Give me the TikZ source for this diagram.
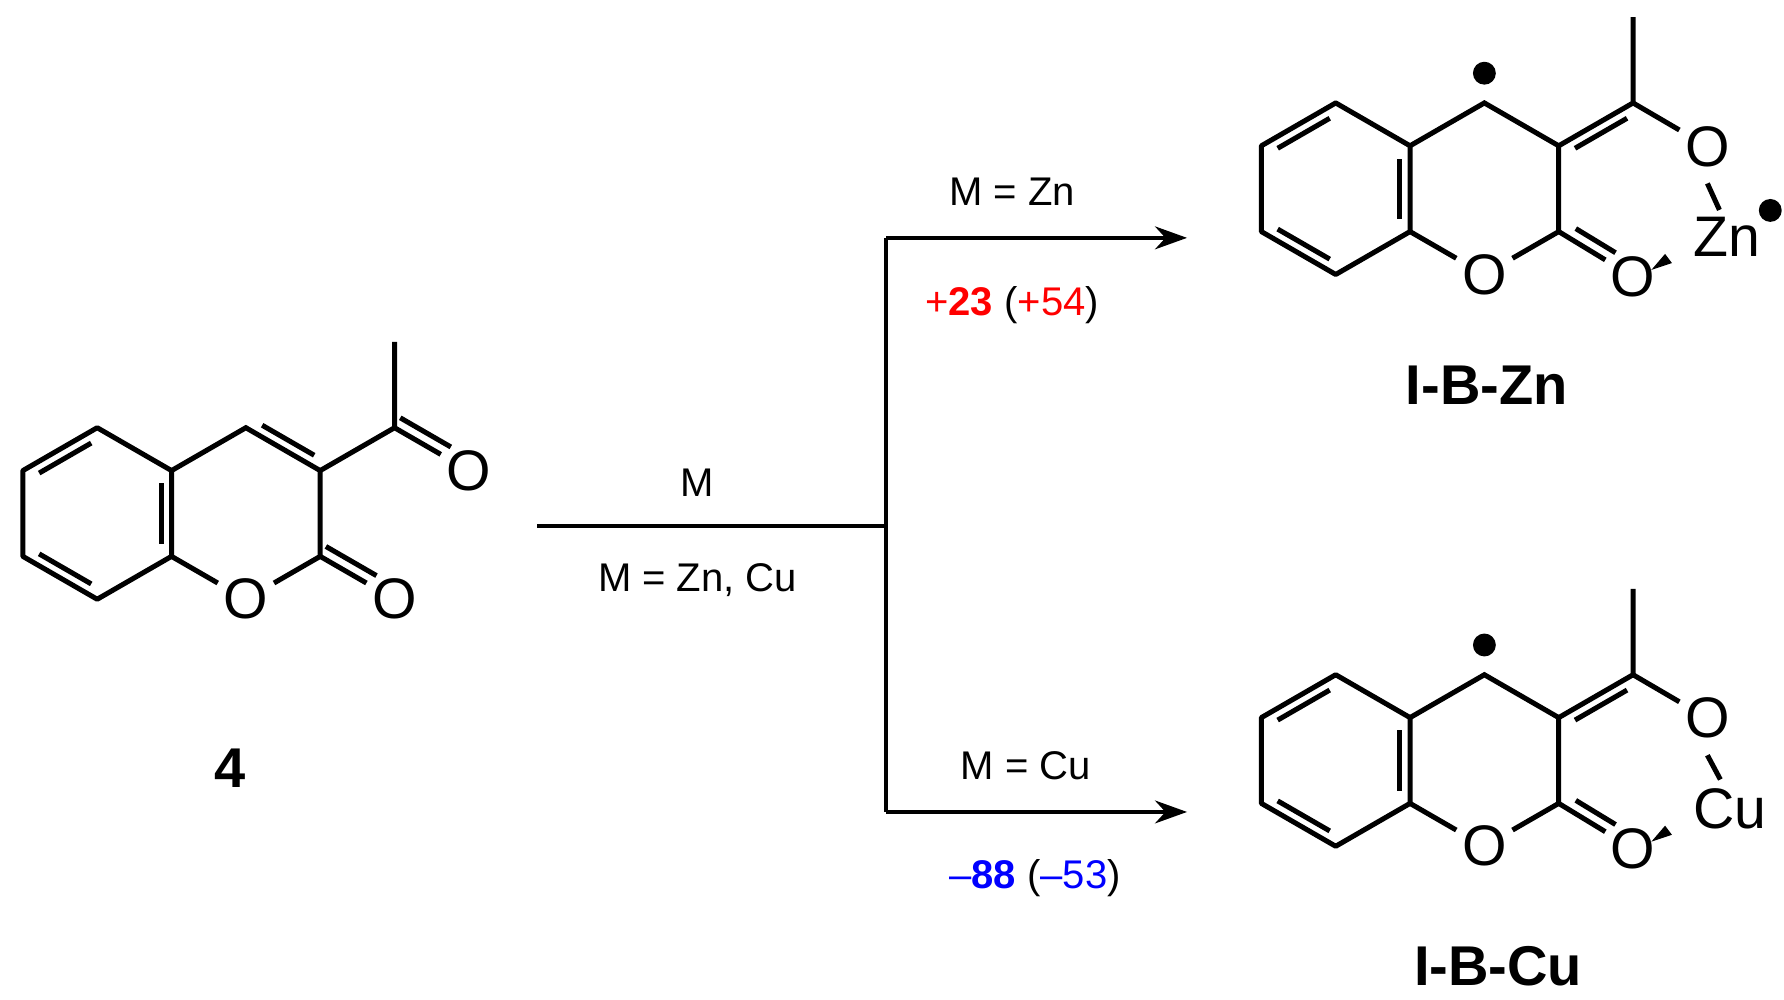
\documentclass[tikz,border=0pt]{standalone}
\usepackage{fontspec}
\setmainfont{Liberation Sans}
\usetikzlibrary{calc,arrows.meta}
\begin{document}
\begin{tikzpicture}[x=0.5pt,y=-0.5pt,line width=2.2pt,
  atom/.style={circle,inner sep=0pt,minimum size=21pt,font=\fontsize{25}{25}\selectfont},
  txt/.style={font=\fontsize{17.5}{20}\selectfont},
  lbl/.style={font=\fontsize{24.5}{26}\selectfont\bfseries},
  arr/.style={-{Stealth[length=14pt,width=10pt]},line width=1.6pt},
  rx/.style={line width=1.6pt}]
\useasboundingbox (0,0) rectangle (1560,873.6);
\newcommand\inb[3]{\draw ($(#1)!.15!(#2)!4.5pt!#3:(#2)$) -- ($(#2)!.15!(#1)!4.5pt!-#3:(#1)$);}
% ---- compound 4
\coordinate (a1) at (85,374); \coordinate (a2) at (20,411.5); \coordinate (a3) at (20,486.5);
\coordinate (a4) at (85,524); \coordinate (a5) at (150,486.5); \coordinate (a6) at (150,411.5);
\coordinate (a7) at (215,374); \coordinate (a8) at (280,411.5); \coordinate (a9) at (280,486.5);
\node[atom] (aO1) at (215,524) {O}; \node[atom] (aO2) at (345,524) {O};
\coordinate (aC) at (345,374); \coordinate (aMe) at (345,299); \node[atom] (aO3) at (410,411.5) {O};
\draw[line cap=round,line join=round] (a1)--(a2)--(a3)--(a4)--(a5)--(a6)--cycle;
\draw (a6)--(a7)--(a8)--(a9)--(aO1)--(a5); \draw (a9)--(aO2); \draw (a8)--(aC)--(aMe); \draw (aC)--(aO3);
\inb{a1}{a2}{90}\inb{a3}{a4}{90}\inb{a5}{a6}{90}\inb{a7}{a8}{90}
\draw ($(a9)!5pt!90:(aO2)$) -- ($(aO2.center)!12pt!(a9)!5pt!-90:(a9)$);
\draw ($(aC)!5pt!90:(aO3)$) -- ($(aO3.center)!12pt!(aC)!5pt!-90:(aC)$);
\node[lbl] (n4) at (201,672) {4};
% ---- products
\foreach \p/\dy in {z/0,c/500}{
\begin{scope}[shift={(0,\dy)}]
\coordinate (\p1) at (1168,90); \coordinate (\p2) at (1103,127.5); \coordinate (\p3) at (1103,202.5);
\coordinate (\p4) at (1168,240); \coordinate (\p5) at (1233,202.5); \coordinate (\p6) at (1233,127.5);
\coordinate (\p7) at (1298,90); \coordinate (\p8) at (1363,127.5); \coordinate (\p9) at (1363,202.5);
\node[atom] (\p O1) at (1298,240) {O}; \node[atom] (\p O2) at (1428,242) {O};
\coordinate (\p C) at (1428,90); \coordinate (\p Me) at (1428,15); \node[atom] (\p O3) at (1493,128) {O};
\fill (1298,64) circle (5pt);
\end{scope}
\draw[line join=round] (\p1)--(\p2)--(\p3)--(\p4)--(\p5)--(\p6)--cycle;
\draw (\p6)--(\p7)--(\p8)--(\p9)--(\p O1)--(\p5); \draw (\p9)--(\p O2); \draw (\p8)--(\p C)--(\p Me); \draw (\p C)--(\p O3);
\inb{\p1}{\p2}{90}\inb{\p3}{\p4}{90}\inb{\p5}{\p6}{90}\inb{\p8}{\p C}{-90}
\draw ($(\p9)!.15!(\p O2.center)!5pt!90:(\p O2.center)$) -- ($(\p O2.center)!12pt!(\p9)!5pt!-90:(\p9)$);
}
\node[atom,anchor=west,font=\fontsize{25}{25}\selectfont] (zM) at (1474,207) {Zn};
\node[atom,anchor=west,font=\fontsize{25}{25}\selectfont] (cM) at (1474,707) {Cu};
\fill (1548,184) circle (5pt);
\foreach \p in {z,c}{
\draw (\p O3.south) ++(0,4) -- ($(\p M.north west)+(19,2)$);
\fill ($(\p O2)+(16,-6)$) -- ($(\p O2)+(28,-20)$) -- ($(\p O2)+(34,-12)$) -- cycle;
}
% ---- scheme lines
\coordinate (s0) at (470,460); \coordinate (sj) at (775,460);
\coordinate (su) at (775,208); \coordinate (sd) at (775,710);
\coordinate (eu) at (1038,208); \coordinate (ed) at (1038,710);
\draw[rx] (s0)--(sj); \draw[rx] (su)--(sd);
\draw[arr] (su)--(eu); \draw[arr] (sd)--(ed);
\node[txt] (t1) at (610,422) {M};
\node[txt] (t2) at (610,507) {M = Zn, Cu};
\node[txt] (t3) at (885,168) {M = Zn};
\node[txt] (t4) at (885,267) {\textcolor{red}{+\textbf{23}} (\textcolor{red}{+54})};
\node[txt] (t5) at (897,670) {M = Cu};
\node[txt] (t6) at (905,768) {\textcolor{blue}{–\textbf{88}} (\textcolor{blue}{–53})};
\node[lbl] (l1) at (1300,337) {I-B-Zn};
\node[lbl] (l2) at (1310,845) {I-B-Cu};
\end{tikzpicture}
\end{document}
